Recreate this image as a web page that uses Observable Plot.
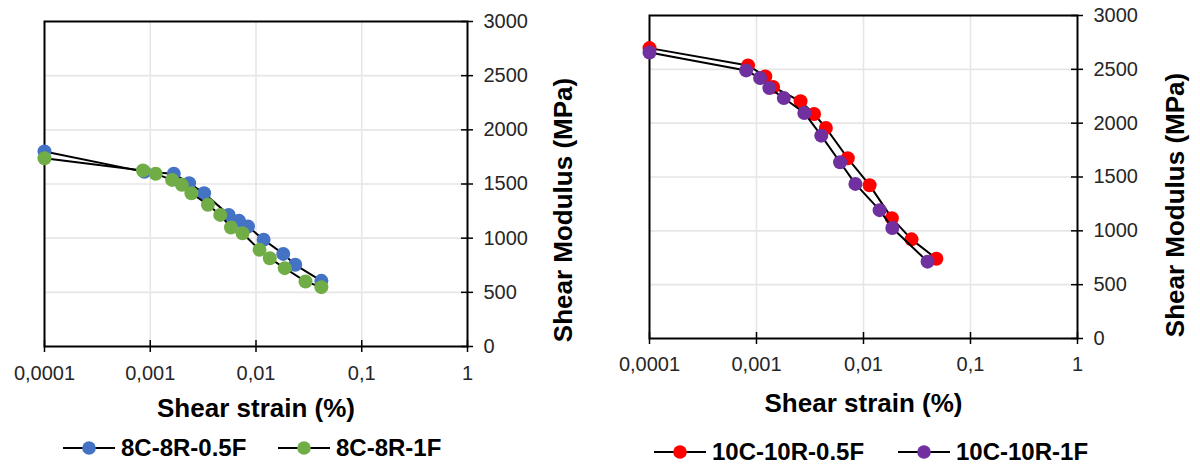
<!DOCTYPE html>
<html>
<head>
<meta charset="utf-8">
<script src="https://cdn.jsdelivr.net/npm/d3@7"></script>
<script src="https://cdn.jsdelivr.net/npm/@observablehq/plot@0.6"></script>
<style>
  body { margin: 0; background: #fff; font-family: "Liberation Sans", Arial, sans-serif; }
  #root { position: relative; width: 1200px; height: 464px; overflow: hidden; }
  .panel { position: absolute; top: 0; }
  .legend-item { position: absolute; display: flex; align-items: center; height: 28px;
    font-family: "Liberation Sans", Arial, sans-serif; font-weight: bold; font-size: 24px; color: #000; white-space: nowrap; }
  .legend-item svg { margin-right: 6px; }
</style>
</head>
<body>
<div id="root"></div>
<script>
// ---- tick labels / titles ----
const xTickValues = [0.0001, 0.001, 0.01, 0.1, 1];
const xTickLabels = ["0,0001", "0,001", "0,01", "0,1", "1"];
const yTickValues = [0, 500, 1000, 1500, 2000, 2500, 3000];
const xTitle = "Shear strain (%)";
const yTitle = "Shear Modulus (MPa)";

// ---- left panel series ----
const name8C05F = "8C-8R-0.5F";
const strain8C05F  = [0.0001, 0.00088, 0.00167, 0.00233, 0.00323, 0.00552, 0.00692, 0.0084, 0.0118, 0.0181, 0.0235, 0.0415];
const modulus8C05F = [1800,   1612,    1594,    1508,    1415,    1215,    1160,    1108,   985,    855,    754,    606];

const name8C1F = "8C-8R-1F";
const strain8C1F  = [0.0001, 0.000853, 0.001125, 0.00161, 0.00199, 0.00245, 0.00351, 0.00459, 0.0058, 0.00746, 0.0108, 0.0135, 0.0187, 0.0294, 0.0415];
const modulus8C1F = [1738,   1625,     1594,     1538,    1492,    1415,    1308,    1215,    1098,   1046,    892,    815,    723,    600,    548];

// ---- right panel series ----
const name10C05F = "10C-10R-0.5F";
const strain10C05F  = [0.0001, 0.000834, 0.00121, 0.00143, 0.00258, 0.00345, 0.00445, 0.00713, 0.0114, 0.0184, 0.0281, 0.048];
const modulus10C05F = [2697,   2536,     2434,    2336,    2203,    2085,    1956,    1674,    1424,   1118,   921,    741];

const name10C1F = "10C-10R-1F";
const strain10C1F  = [0.0001, 0.0008, 0.00108, 0.00132, 0.0018, 0.0028, 0.00403, 0.00604, 0.0084, 0.01415, 0.0186, 0.0397];
const modulus10C1F = [2657,   2490,   2419,    2326,    2234,   2095,   1884,    1637,    1436,   1192,    1026,   714];

// ---- colours ----
const colorBlue = "#4472C4", colorGreen = "#70AD47", colorRed = "#FF0000", colorPurple = "#7030A0";

function toRows(strain, modulus) {
  return strain.map((s, i) => ({strain: s, modulus: modulus[i]}));
}

function makePanel({series, width, height, marginLeft, marginRight, marginTop, marginBottom, xPad, xTitleDy, yTitleDx, yTitleDy}) {
  const plotW = width - marginLeft - marginRight;
  const plotH = height - marginTop - marginBottom;
  const marks = [
    Plot.ruleX(xTickValues.slice(1, -1), {stroke: "#e6e6e6", strokeWidth: 1.6}),
    Plot.ruleY(yTickValues.slice(1, -1), {stroke: "#e6e6e6", strokeWidth: 1.6}),
    Plot.frame({stroke: "#000", strokeWidth: 2}),
    Plot.tickX(xTickValues, {x: d => d, stroke: "#000", strokeWidth: 1.5, insetTop: plotH - 6, insetBottom: -6}),
    Plot.tickY(yTickValues, {y: d => d, stroke: "#000", strokeWidth: 1.5, insetLeft: plotW - 6, insetRight: -6}),
    Plot.axisX({ticks: xTickValues, tickFormat: (d) => xTickLabels[xTickValues.indexOf(d)], tickSize: 0, tickPadding: xPad,
      fontSize: 20, fill: "#262626", label: null}),
    Plot.axisY({anchor: "right", ticks: yTickValues, tickFormat: d => String(d), tickSize: 0, tickPadding: 16,
      fontSize: 20, fill: "#262626", label: null}),
    Plot.text([xTitle], {text: d => d, frameAnchor: "bottom", dy: xTitleDy, lineAnchor: "middle", textAnchor: "middle",
      fontSize: 26, fontWeight: "bold", fill: "#000"}),
    Plot.text([yTitle], {text: d => d, frameAnchor: "right", dx: yTitleDx, dy: yTitleDy, rotate: -90, lineAnchor: "middle", textAnchor: "middle",
      fontSize: 26, fontWeight: "bold", fill: "#000"})
  ];
  for (const s of series) {
    const rows = toRows(s.strain, s.modulus);
    marks.push(Plot.line(rows, {x: "strain", y: "modulus", stroke: "#000", strokeWidth: 2}));
    marks.push(Plot.dot(rows, {x: "strain", y: "modulus", r: 7, fill: s.color, stroke: "none"}));
  }
  return Plot.plot({
    width, height, marginLeft, marginRight, marginTop, marginBottom,
    style: {fontFamily: "Liberation Sans, Arial, sans-serif", background: "transparent", overflow: "visible"},
    x: {type: "log", domain: [0.0001, 1]},
    y: {domain: [0, 3000]},
    marks
  });
}

function legendItem(root, name, color, left, centerY) {
  const div = document.createElement("div");
  div.className = "legend-item";
  div.style.left = left + "px";
  div.style.top = (centerY - 14) + "px";
  div.innerHTML = `<svg width="52" height="20"><line x1="0" y1="10" x2="52" y2="10" stroke="#000" stroke-width="2"/><circle cx="26" cy="10" r="6.8" fill="${color}"/></svg><span>${name}</span>`;
  root.appendChild(div);
}

const root = document.getElementById("root");

const left = makePanel({
  series: [
    {strain: strain8C05F, modulus: modulus8C05F, color: colorBlue},
    {strain: strain8C1F, modulus: modulus8C1F, color: colorGreen}
  ],
  width: 600, height: 425, marginLeft: 44, marginRight: 133, marginTop: 21, marginBottom: 79,
  xPad: 19, xTitleDy: 62, yTitleDx: 96, yTitleDy: 26
});
left.classList.add("panel");
left.style.left = "0px";
root.appendChild(left);

const right = makePanel({
  series: [
    {strain: strain10C05F, modulus: modulus10C05F, color: colorRed},
    {strain: strain10C1F, modulus: modulus10C1F, color: colorPurple}
  ],
  width: 600, height: 425, marginLeft: 49, marginRight: 123, marginTop: 15, marginBottom: 87,
  xPad: 18, xTitleDy: 65, yTitleDx: 98, yTitleDy: 28
});
right.classList.add("panel");
right.style.left = "600px";
root.appendChild(right);

legendItem(root, name8C05F, colorBlue, 63, 448);
legendItem(root, name8C1F, colorGreen, 278, 448);
legendItem(root, name10C05F, colorRed, 654, 452);
legendItem(root, name10C1F, colorPurple, 898, 452);
</script>
</body>
</html>
